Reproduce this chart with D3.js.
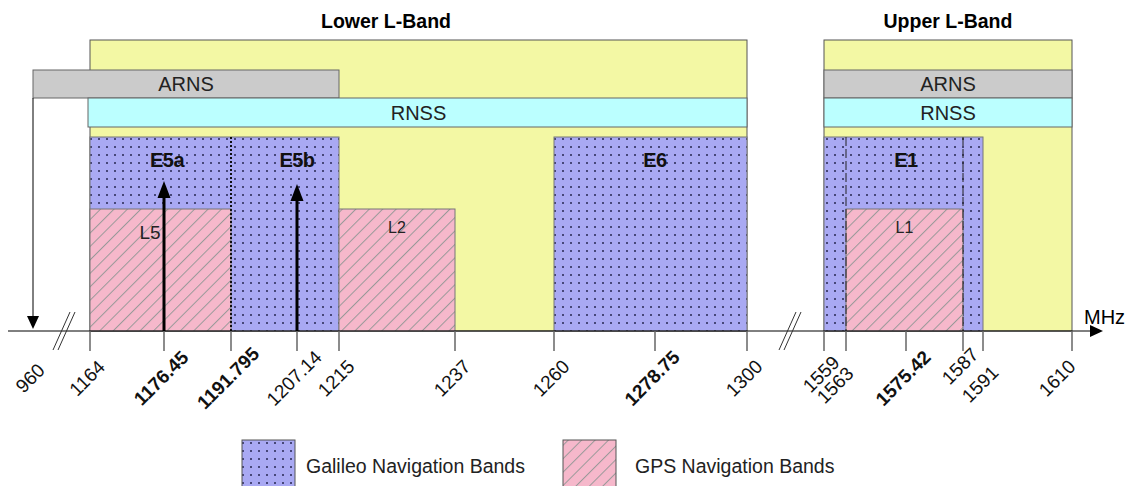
<!DOCTYPE html>
<html>
<head>
<meta charset="utf-8">
<script src="https://cdn.jsdelivr.net/npm/d3@7"></script>
<style>
  body { margin: 0; background: #fff; }
  svg { display: block; font-family: Arial, "Liberation Sans", sans-serif; }
</style>
</head>
<body>
<svg class="bands_svg" width="1130" height="486"></svg>
<script>
// frequencies (MHz) shown on the axis
var ticks = [960, 1164, 1176.45, 1191.795, 1207.14, 1215, 1237, 1260, 1278.75, 1300, 1559, 1563, 1575.42, 1587, 1591, 1610];
var tickLabels = ["960", "1164", "1176.45", "1191.795", "1207.14", "1215", "1237", "1260", "1278.75", "1300", "1559", "1563", "1575.42", "1587", "1591", "1610"];
var boldTicks = [1176.45, 1191.795, 1278.75, 1575.42];

var lBands = [{ name: "Lower L-Band", from: 960, start: 1164, end: 1300 },
              { name: "Upper L-Band", from: 1559, start: 1559, end: 1610 }];
var arns = [[960, 1215], [1559, 1610]];
var rnss = [[1164, 1300], [1559, 1610]];
var galileo = [[1164, 1215], [1260, 1300], [1559, 1591]];
var galileoNames = ["E5a", "E5b", "E6", "E1"];
var galileoCentres = [1176.45, 1207.14, 1278.75, 1575.42];
var gps = [[1164, 1191.795], [1215, 1237], [1563, 1587]];
var gpsNames = ["L5", "L2", "L1"];
var arrows = [1176.45, 1207.14];
var dotted = [1191.795];
var dashed = [1563, 1587];

var svg = d3.select(".bands_svg");

// schematic axis: not to scale, so a piecewise linear scale
var x = d3.scaleLinear()
    .domain(ticks)
    .range([33, 90, 164, 231, 297, 339, 455, 554, 655, 747, 824, 846, 906, 963, 983, 1072]);

var axisY = 331,
    boxTop = 40,
    arnsTop = 70,
    rnssTop = 98,
    rnssBot = 127,
    galTop = 137,
    gpsTop = 209;

var defs = svg.append("defs");
var dots = defs.append("pattern")
    .attr("id", "dots")
    .attr("patternUnits", "userSpaceOnUse")
    .attr("width", 8).attr("height", 8);
dots.append("rect").attr("width", 8).attr("height", 8).attr("fill", "#a9a9f3");
dots.append("circle").attr("cx", 3).attr("cy", 3).attr("r", 1).attr("fill", "#262650");

var hatch = defs.append("pattern")
    .attr("id", "hatch")
    .attr("patternUnits", "userSpaceOnUse")
    .attr("width", 9.5).attr("height", 9.5)
    .attr("patternTransform", "rotate(45)");
hatch.append("rect").attr("width", 9.5).attr("height", 9.5).attr("fill", "#f6b8cb");
hatch.append("line").attr("x1", 0).attr("y1", 0).attr("x2", 0).attr("y2", 9.5)
    .attr("stroke", "#999").attr("stroke-width", 2);

// yellow L-band boxes and titles
svg.selectAll(".lband").data(lBands).enter().append("rect")
    .attr("x", function (d) { return x(d.start); })
    .attr("y", boxTop)
    .attr("width", function (d) { return x(d.end) - x(d.start); })
    .attr("height", axisY - boxTop)
    .attr("fill", "#f3f8a4")
    .attr("stroke", "#555");

svg.selectAll(".ltitle").data(lBands).enter().append("text")
    .text(function (d) { return d.name; })
    .attr("x", function (d, i) { return (x(d.from) + x(d.end)) / 2 - (i == 0 ? 4 : 0); })
    .attr("y", 28)
    .attr("text-anchor", "middle")
    .style("font-weight", "bold")
    .style("font-size", "19.5px");

// ARNS and RNSS strips
function strip(data, y0, y1, fill, name) {
    svg.selectAll(".s_" + name).data(data).enter().append("rect")
        .attr("x", function (d) { return x(d[0]) - (name == "RNSS" && d[0] == 1164 ? 2 : 0); })
        .attr("y", y0)
        .attr("width", function (d) { return x(d[1]) - x(d[0]) + (name == "RNSS" && d[0] == 1164 ? 2 : 0); })
        .attr("height", y1 - y0)
        .attr("fill", fill)
        .attr("stroke", "#666");
    svg.selectAll(".t_" + name).data(data).enter().append("text")
        .text(name)
        .attr("x", function (d) { return (x(d[0]) + x(d[1])) / 2; })
        .attr("y", (y0 + y1) / 2 + 7)
        .attr("text-anchor", "middle")
        .style("font-size", "20px")
        .style("fill", "#222");
}
strip(arns, arnsTop, rnssTop, "#cbcbcb", "ARNS");
strip(rnss, rnssTop, rnssBot, "#bbffff", "RNSS");

// Galileo and GPS bands
svg.selectAll(".gal").data(galileo).enter().append("rect")
    .attr("x", function (d) { return x(d[0]); })
    .attr("y", galTop)
    .attr("width", function (d) { return x(d[1]) - x(d[0]); })
    .attr("height", axisY - galTop)
    .attr("fill", "url(#dots)")
    .attr("stroke", "#777");

svg.selectAll(".gps").data(gps).enter().append("rect")
    .attr("x", function (d) { return x(d[0]); })
    .attr("y", gpsTop)
    .attr("width", function (d) { return x(d[1]) - x(d[0]); })
    .attr("height", axisY - gpsTop)
    .attr("fill", "url(#hatch)")
    .attr("stroke", "#777");

svg.selectAll(".dotted").data(dotted).enter().append("line")
    .attr("x1", x).attr("x2", x)
    .attr("y1", galTop).attr("y2", axisY)
    .attr("stroke", "#111").attr("stroke-width", 2)
    .attr("stroke-dasharray", "2,2");

svg.selectAll(".dashed").data(dashed).enter().append("line")
    .attr("x1", x).attr("x2", x)
    .attr("y1", galTop).attr("y2", axisY)
    .attr("stroke", "#222").attr("stroke-width", 1)
    .attr("stroke-dasharray", "9,3");

svg.selectAll(".galname").data(galileoNames).enter().append("text")
    .text(function (d) { return d; })
    .attr("x", function (d, i) { return x(galileoCentres[i]) + (i == 0 ? 3 : 0); })
    .attr("y", 167)
    .attr("text-anchor", "middle")
    .style("font-weight", "bold")
    .style("font-size", "20px")
    .style("letter-spacing", "-0.5px")
    .style("fill", "#111");

svg.selectAll(".gpsname").data(gpsNames).enter().append("text")
    .text(function (d) { return d; })
    .attr("x", function (d, i) { return i == 0 ? x(gps[i][0]) + 60 : (x(gps[i][0]) + x(gps[i][1])) / 2; })
    .attr("y", function (d, i) { return i == 0 ? 239 : 233; })
    .attr("text-anchor", "middle")
    .style("font-size", function (d, i) { return i == 0 ? "19px" : "16px"; })
    .style("fill", "#222");

// carrier arrows
svg.selectAll(".carrier").data(arrows).enter().append("line")
    .attr("x1", x).attr("x2", x)
    .attr("y1", axisY).attr("y2", 196)
    .attr("stroke", "#000").attr("stroke-width", 3);
svg.selectAll(".carrierhead").data(arrows).enter().append("path")
    .attr("d", function (d, i) {
        var cx = x(d), tip = i == 0 ? 181 : 184;
        return "M" + cx + "," + tip + "L" + (cx - 6.5) + "," + (tip + 17) + "L" + (cx + 6.5) + "," + (tip + 17) + "Z";
    })
    .attr("fill", "#000");

// ARNS extends down to 960 MHz
svg.append("line")
    .attr("x1", x(960)).attr("x2", x(960))
    .attr("y1", rnssTop).attr("y2", 318)
    .attr("stroke", "#000").attr("stroke-width", 1);
svg.append("path")
    .attr("d", "M" + x(960) + ",329L" + (x(960) - 6) + ",316L" + (x(960) + 6) + ",316Z")
    .attr("fill", "#000");

// frequency axis
svg.append("line")
    .attr("x1", 8).attr("x2", 1094)
    .attr("y1", axisY).attr("y2", axisY)
    .attr("stroke", "#000").attr("stroke-width", 1);
svg.append("path")
    .attr("d", "M1103," + axisY + "L1090," + (axisY - 6) + "L1090," + (axisY + 6) + "Z")
    .attr("fill", "#000");
svg.append("text")
    .text("MHz")
    .attr("x", 1084).attr("y", 324)
    .style("font-size", "20px");

// axis breaks
[[53, 70], [779, 796]].forEach(function (b) {
    [0, 5].forEach(function (o) {
        svg.append("line")
            .attr("x1", b[0] + o).attr("y1", 350)
            .attr("x2", b[1] + o).attr("y2", 312)
            .attr("stroke", "#333").attr("stroke-width", 1);
    });
});

svg.selectAll(".tick").data(ticks.slice(1)).enter().append("line")
    .attr("x1", x).attr("x2", x)
    .attr("y1", axisY).attr("y2", 351)
    .attr("stroke", "#666").attr("stroke-width", 1.5);

// nudges for crowded labels
var dx = { 1563: -8, 1610: -12 },
    dy = { 1559: -4, 1563: 7, 1587: -12, 1591: 6 };
svg.selectAll(".ticklabel").data(ticks).enter().append("text")
    .text(function (d, i) { return tickLabels[i]; })
    .attr("transform", function (d) {
        return "translate(" + (x(d) - 3 + (dx[d] || 0)) + "," + (378 + (dy[d] || 0)) + ") rotate(-45)";
    })
    .attr("text-anchor", "middle")
    .attr("dy", ".35em")
    .style("font-size", "19px")
    .style("font-weight", function (d) { return boldTicks.indexOf(d) >= 0 ? "bold" : "normal"; })
    .style("fill", "#111");

// legend
var legend = [{ name: "Galileo Navigation Bands", fill: "url(#dots)", x: 242, tx: 306 },
              { name: "GPS Navigation Bands", fill: "url(#hatch)", x: 563, tx: 635 }];
var lg = svg.selectAll(".legend").data(legend).enter().append("g");
lg.append("rect")
    .attr("x", function (d) { return d.x; })
    .attr("y", 440)
    .attr("width", 53).attr("height", 50)
    .attr("fill", function (d) { return d.fill; })
    .attr("stroke", "#555");
lg.append("text")
    .text(function (d) { return d.name; })
    .attr("x", function (d) { return d.tx; })
    .attr("y", 473)
    .style("font-size", "19.5px")
    .style("fill", "#222");
</script>
</body>
</html>
